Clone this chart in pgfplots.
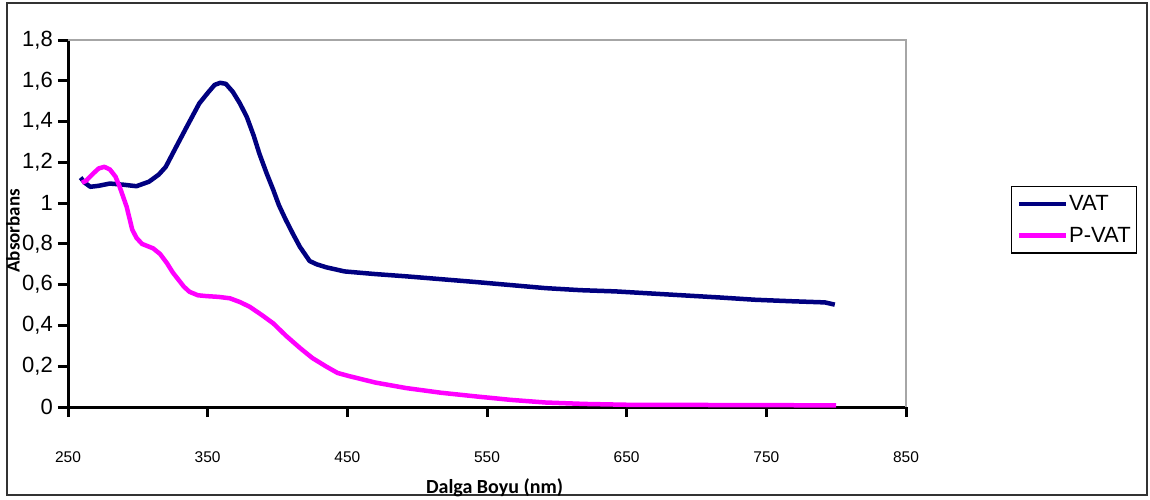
\documentclass[border=0pt]{standalone}
\usepackage{pgfplots}
\pgfplotsset{compat=1.18}
\usepackage{fontspec}
\setmainfont{Liberation Sans}
\newfontfamily\calfont{Carlito}
\definecolor{vatblue}{HTML}{000080}
\definecolor{pvat}{HTML}{FF00FF}
\begin{document}
\begin{tikzpicture}[x=1pt,y=1pt]
\path (0,0) rectangle (1150,499);
\draw[black!80, line width=1.6pt] (7,4) rectangle (1147,496);
\begin{axis}[
  at={(68pt,92pt)}, anchor=south west,
  width=838pt, height=367pt, scale only axis,
  xmin=250, xmax=850, ymin=0, ymax=1.8,
  axis lines=left,
  axis line style={line width=3pt, -},
  tick align=outside,
  major tick length=10pt,
  tick style={line width=3pt, black},
  xtick={250,350,450,550,650,750,850},
  ytick={0,0.2,0.4,0.6,0.8,1,1.2,1.4,1.6,1.8},
  yticklabels={0,{0,2},{0,4},{0,6},{0,8},1,{1,2},{1,4},{1,6},{1,8}},
  xticklabels={250,350,450,550,650,750,850},
  yticklabel style={anchor=east, inner sep=0pt, xshift=-5pt, font=\fontsize{22}{22}\selectfont},
  xticklabel style={anchor=base, inner sep=0pt, yshift=-45pt, font=\fontsize{15.5}{16}\selectfont},
  xlabel={\calfont\bfseries Dalga Boyu (nm)},
  xlabel style={at={(axis description cs:0.509,0)}, anchor=base, yshift=-86pt, inner sep=0pt, font=\fontsize{20}{20}\selectfont},
  ylabel={\calfont\bfseries Absorbans},
  ylabel style={at={(axis description cs:-0.0656,0.48)}, anchor=center, inner sep=0pt, font=\fontsize{19}{19}\selectfont},
  legend style={at={(axis description cs:1.1253,0.6022)}, anchor=north west,
    draw=black, line width=1.3pt, inner xsep=5pt, inner ysep=8pt,
    font=\fontsize{22}{23}\selectfont, row sep=13pt,
    nodes={inner sep=1pt, anchor=west}},
  legend cell align=left,
  legend image code/.code={\draw[#1] (0pt,0pt) -- (47pt,0pt);},
  clip=false,
]
\draw[gray!70, line width=1.5pt] (rel axis cs:0,1) -- (rel axis cs:1,1) -- (rel axis cs:1,0);
\addplot[vatblue, line width=4.5pt, line join=round] coordinates {
(259,1.125) (262,1.10) (266,1.08) (272,1.085) (280,1.096) (290,1.09) (299,1.083)
(308,1.105) (315,1.14) (320,1.178) (327,1.27) (335,1.374) (344,1.489) (350,1.54)
(355,1.58) (359,1.59) (363,1.585) (368,1.546) (373,1.49) (378,1.423) (383,1.33)
(387,1.243) (392,1.15) (397,1.064) (401,0.99) (406,0.917) (411,0.85) (416,0.786)
(423,0.716) (428,0.70) (435,0.685) (448,0.665) (470,0.652) (492,0.641) (517,0.627)
(542,0.613) (567,0.598) (592,0.583) (617,0.573) (642,0.567) (667,0.557) (692,0.547)
(717,0.537) (742,0.526) (767,0.519) (792,0.513) (799,0.502)
};
\addlegendentry{VAT}
\addplot[pvat, line width=4.5pt, line join=round] coordinates {
(260,1.10) (263,1.11) (268,1.145) (272,1.17) (276,1.178) (280,1.165) (284,1.13)
(287,1.08) (292,0.982) (296,0.87) (299,0.83) (303,0.80) (311,0.778) (316,0.75)
(321,0.704) (325,0.66) (329,0.625) (333,0.59) (337,0.565) (343,0.548) (349,0.544)
(358,0.54) (366,0.533) (373,0.515) (380,0.492) (389,0.45) (397,0.41) (406,0.35)
(416,0.29) (425,0.24) (435,0.198) (443,0.167) (451,0.152) (470,0.12) (492,0.093)
(517,0.07) (542,0.052) (567,0.035) (592,0.022) (620,0.015) (650,0.011) (700,0.01)
(750,0.009) (800,0.008)
};
\addlegendentry{P-VAT}
\end{axis}
\end{tikzpicture}
\end{document}
